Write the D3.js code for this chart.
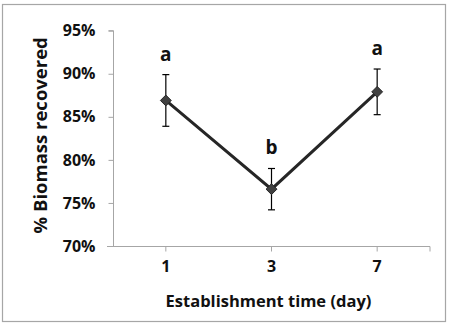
<!DOCTYPE html>
<html>
<head>
<meta charset="utf-8">
<script src="https://cdn.jsdelivr.net/npm/d3@7"></script>
<style>
  body { margin: 0; background: #fff; }
  svg { display: block; }
</style>
</head>
<body>
<svg id="chart"></svg>
<script>
const days = ['1', '3', '7'];
const biomass = [86.9, 76.6, 87.9];
const errors = [3.0, 2.4, 2.65];
const letters = ['a', 'b', 'a'];
const yTicks = [70, 75, 80, 85, 90, 95];

const width = 453;
const height = 326;
const font = '"Open Sans", "DejaVu Sans", sans-serif';
const axisColor = '#a6a6a6';

const svg = d3.select('#chart').attr('width', width).attr('height', height);

// outer frame
svg.append('rect')
  .attr('x', 2.5).attr('y', 4.5)
  .attr('width', 443).attr('height', 317)
  .attr('fill', '#fff')
  .attr('stroke', axisColor)
  .attr('stroke-width', 1.2);

const plotL = 113, plotR = 430, plotT = 30.7, plotB = 246;

const x = d3.scaleBand().domain(days).range([plotL, plotR]);
const y = d3.scaleLinear().domain([70, 95]).range([plotB, plotT]);

// y axis
const yAxis = d3.axisLeft(y)
  .tickValues(yTicks)
  .tickSize(5)
  .tickPadding(13)
  .tickFormat(d => d + '%');
const gy = svg.append('g').attr('transform', `translate(${plotL + 0.5},0)`).call(yAxis);
gy.select('.domain').attr('stroke', axisColor).attr('d', `M-5,${plotT}H0V${plotB}`);
gy.selectAll('.tick line').attr('stroke', axisColor);
gy.selectAll('text')
  .attr('font-family', font).attr('font-weight', 'bold')
  .attr('font-size', 16).attr('fill', '#111');

// x axis
const xAxis = d3.axisBottom(x).tickSize(5).tickPadding(9);
const gx = svg.append('g').attr('transform', `translate(0,${plotB + 0.5})`).call(xAxis);
gx.select('.domain').attr('stroke', axisColor).attr('d', `M${plotL - 6},0H${plotR}V5`);
gx.selectAll('.tick line').attr('stroke', axisColor);
gx.selectAll('text')
  .attr('font-family', font).attr('font-weight', 'bold')
  .attr('font-size', 16).attr('fill', '#111');

const cx = d => x(d) + x.bandwidth() / 2;

// error bars
const eb = svg.append('g').attr('stroke', '#000').attr('stroke-width', 1.2);
days.forEach((d, i) => {
  const px = cx(d);
  const y0 = y(biomass[i] + errors[i]), y1 = y(biomass[i] - errors[i]);
  eb.append('line').attr('x1', px).attr('x2', px).attr('y1', y0).attr('y2', y1);
  eb.append('line').attr('x1', px - 3.5).attr('x2', px + 3.5).attr('y1', y0).attr('y2', y0);
  eb.append('line').attr('x1', px - 3.5).attr('x2', px + 3.5).attr('y1', y1).attr('y2', y1);
});

// line
const line = d3.line().x((d, i) => cx(days[i])).y(d => y(d));
svg.append('path')
  .datum(biomass)
  .attr('d', line)
  .attr('fill', 'none')
  .attr('stroke', '#262626')
  .attr('stroke-width', 3)
  .attr('stroke-linejoin', 'miter');

// diamond markers
svg.append('g').selectAll('path').data(biomass).enter()
  .append('path')
  .attr('d', d3.symbol(d3.symbolDiamond2, 75))
  .attr('transform', (d, i) => `translate(${cx(days[i])},${y(d)})`)
  .attr('fill', '#404040')
  .attr('stroke', '#262626')
  .attr('stroke-width', 1);

// significance letters
svg.append('g').selectAll('text').data(letters).enter()
  .append('text')
  .attr('x', (d, i) => cx(days[i]))
  .attr('y', (d, i) => y(biomass[i] + errors[i]) - 14)
  .attr('text-anchor', 'middle')
  .attr('font-family', font).attr('font-weight', 'bold')
  .attr('font-size', 19).attr('fill', '#111')
  .text(d => d);

// axis titles
svg.append('text')
  .attr('x', (plotL + plotR) / 2 - 3)
  .attr('y', 307)
  .attr('text-anchor', 'middle')
  .attr('font-family', font).attr('font-weight', 'bold')
  .attr('font-size', 16.5).attr('fill', '#111')
  .text('Establishment time (day)');

svg.append('text')
  .attr('transform', `translate(47,${(plotT + plotB) / 2 - 3}) rotate(-90)`)
  .attr('text-anchor', 'middle')
  .attr('font-family', font).attr('font-weight', 'bold')
  .attr('font-size', 18.5).attr('fill', '#111')
  .text('% Biomass recovered');
</script>
</body>
</html>
